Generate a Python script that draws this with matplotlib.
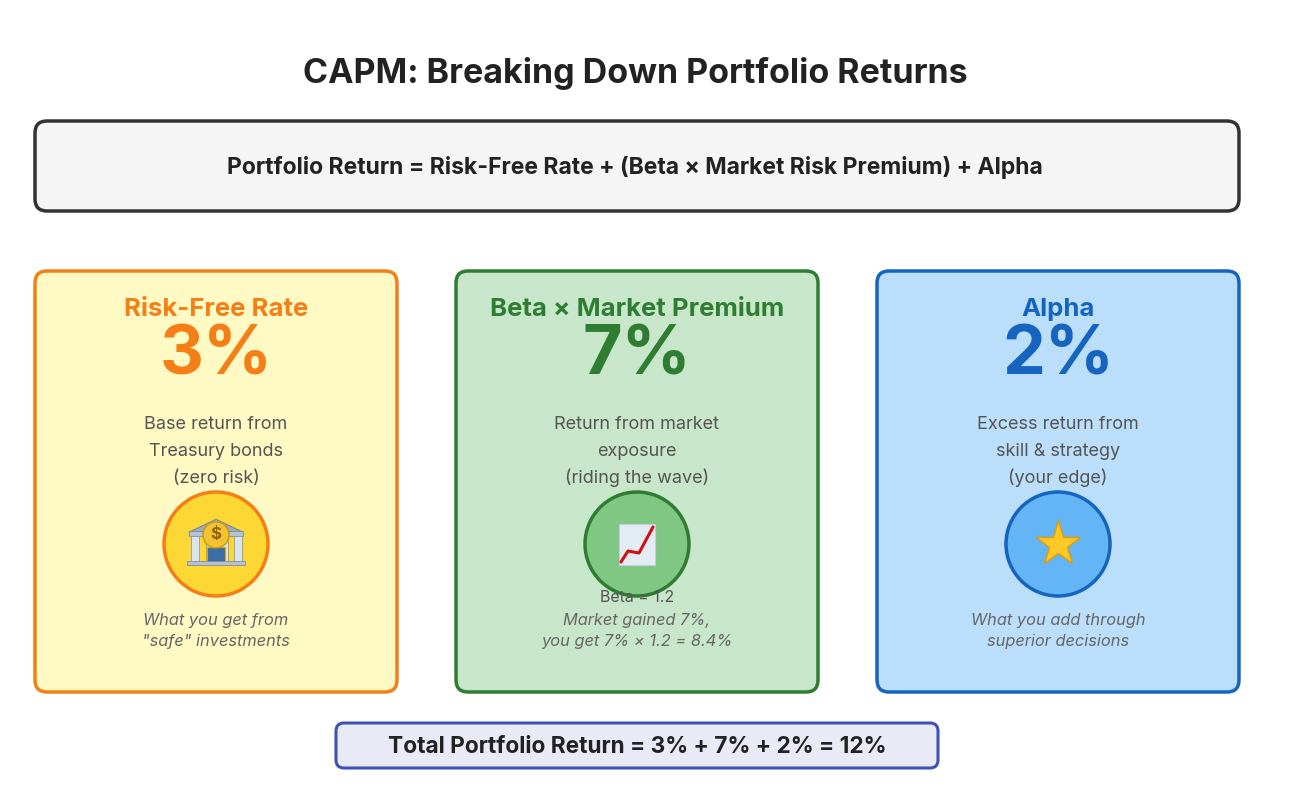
import matplotlib
matplotlib.use("Agg")
import matplotlib.pyplot as plt
from matplotlib.patches import FancyBboxPatch, Circle, Rectangle, Polygon

plt.rcParams['font.family'] = ['Inter', 'DejaVu Sans']

# ---- data ----
title = "CAPM: Breaking Down Portfolio Returns"
formula = "Portfolio Return = Risk-Free Rate + (Beta × Market Risk Premium) + Alpha"
components = ["Risk-Free Rate", "Beta × Market Premium", "Alpha"]
values = [3, 7, 2]
descriptions = [
    ["Base return from", "Treasury bonds", "(zero risk)"],
    ["Return from market", "exposure", "(riding the wave)"],
    ["Excess return from", "skill & strategy", "(your edge)"],
]
extra_notes = ["", "Beta = 1.2", ""]
notes = [
    ["What you get from", "\"safe\" investments"],
    ["Market gained 7%,", "you get 7% × 1.2 = 8.4%"],
    ["What you add through", "superior decisions"],
]
icons = ["bank", "chart", "star"]
card_fill = ["#FFF9C4", "#C8E6C9", "#BBDEFB"]
card_edge = ["#F57F17", "#2E7D32", "#1565C0"]
text_color = ["#F57F17", "#2E7D32", "#1565C0"]
circle_fill = ["#FDD835", "#81C784", "#64B5F6"]
total_text = "Total Portfolio Return = " + " + ".join(f"{v}%" for v in values) + f" = {sum(values)}%"

fig = plt.figure(figsize=(13, 7.88), dpi=100)
ax = fig.add_axes([0, 0, 1, 1])
ax.set_xlim(0, 1300)
ax.set_ylim(788, 0)
ax.axis('off')


def rbox(x0, y0, x1, y1, fc, ec, lw=2.5, r=12):
    p = FancyBboxPatch((x0 + r, y0 + r), (x1 - x0) - 2 * r, (y1 - y0) - 2 * r,
                       boxstyle=f"round,pad={r}", fc=fc, ec=ec, lw=lw, zorder=1)
    ax.add_patch(p)


ax.text(635, 73, title, ha='center', va='center', fontsize=24.5, fontweight='bold', color='#222222')

rbox(35, 121, 1239, 211, '#F5F5F5', '#333333', lw=2.5)
ax.text(635, 167, formula, ha='center', va='center', fontsize=16.5, fontweight='bold', color='#222222')

ital = ['Inter', 'DejaVu Sans']

centers = [216, 637, 1058]
for i, cx in enumerate(centers):
    rbox(cx - 181, 271, cx + 181, 692, card_fill[i], card_edge[i], lw=2.5)
    ax.text(cx, 309, components[i], ha='center', va='center', fontsize=18.5, fontweight='bold', color=text_color[i])
    ax.text(cx, 356, f"{values[i]}%", ha='center', va='center', fontsize=49, fontweight='bold', color=text_color[i])
    for j, line in enumerate(descriptions[i]):
        ax.text(cx, 424 + 27 * j, line, ha='center', va='center', fontsize=13, color='#555555')
    cy = 544
    ax.add_patch(Circle((cx, cy), 52, fc=circle_fill[i], ec=card_edge[i], lw=2.5, zorder=2))
    kind = icons[i]
    if kind == "bank":
        s = 1.3
        ax.add_patch(Polygon([(cx - 21 * s, cy - 9 * s), (cx, cy - 19 * s), (cx + 21 * s, cy - 9 * s)], closed=True,
                             fc='#9EAAB8', ec='#7D8A99', lw=0.8, zorder=3))
        ax.add_patch(Rectangle((cx - 21 * s, cy - 10 * s), 42 * s, 4 * s, fc='#B7C2CE', ec='#7D8A99', lw=0.6, zorder=3))
        for k in range(4):
            ax.add_patch(Rectangle((cx + (-19 + k * 11) * s, cy - 6 * s), 6 * s, 20 * s,
                                   fc='#DDE3EA', ec='#8C98A6', lw=0.6, zorder=3))
        ax.add_patch(Rectangle((cx - 7 * s, cy + 2 * s), 14 * s, 12 * s, fc='#3A6EA5', ec='#E0A800', lw=0.8, zorder=3))
        ax.add_patch(Rectangle((cx - 22 * s, cy + 13 * s), 44 * s, 3.5 * s, fc='#B7C2CE', ec='#7D8A99', lw=0.6, zorder=3))
        ax.add_patch(Circle((cx, cy - 7 * s), 10 * s, fc='#F2C230', ec='#C99A10', lw=1, zorder=4))
        ax.text(cx, cy - 7 * s, "$", ha='center', va='center', fontsize=12, fontweight='bold', color='#8A6500', zorder=5)
    elif kind == "chart":
        ax.add_patch(Rectangle((cx - 18, cy - 20), 36, 41, fc='#E3EBF3', ec='#C5CFDA', lw=0.8, zorder=3))
        ax.plot([cx - 16, cx - 9, cx + 2, cx + 16], [cy + 18, cy + 7, cy + 9, cy - 17],
                color='#D01010', lw=2.2, zorder=4, solid_capstyle='round')
    else:
        ax.plot([cx], [cy], marker='*', markersize=34, color='#FFC928', markeredgecolor='#E59A00',
                markeredgewidth=1, zorder=3)
    if extra_notes[i]:
        ax.text(cx, 598, extra_notes[i], ha='center', va='center', fontsize=11.5, color='#555555', zorder=6)
    for j, line in enumerate(notes[i]):
        ax.text(cx, 620 + 21.5 * j, line, ha='center', va='center', fontsize=11.8, color='#666666',
                style='italic', family=ital)

rbox(336, 723, 938, 768, '#E8EAF6', '#3F51B5', lw=2.2, r=8)
ax.text(637, 747, total_text, ha='center', va='center', fontsize=16.3, fontweight='bold', color='#222222')

fig.savefig("out.png", dpi=100, facecolor='white')
